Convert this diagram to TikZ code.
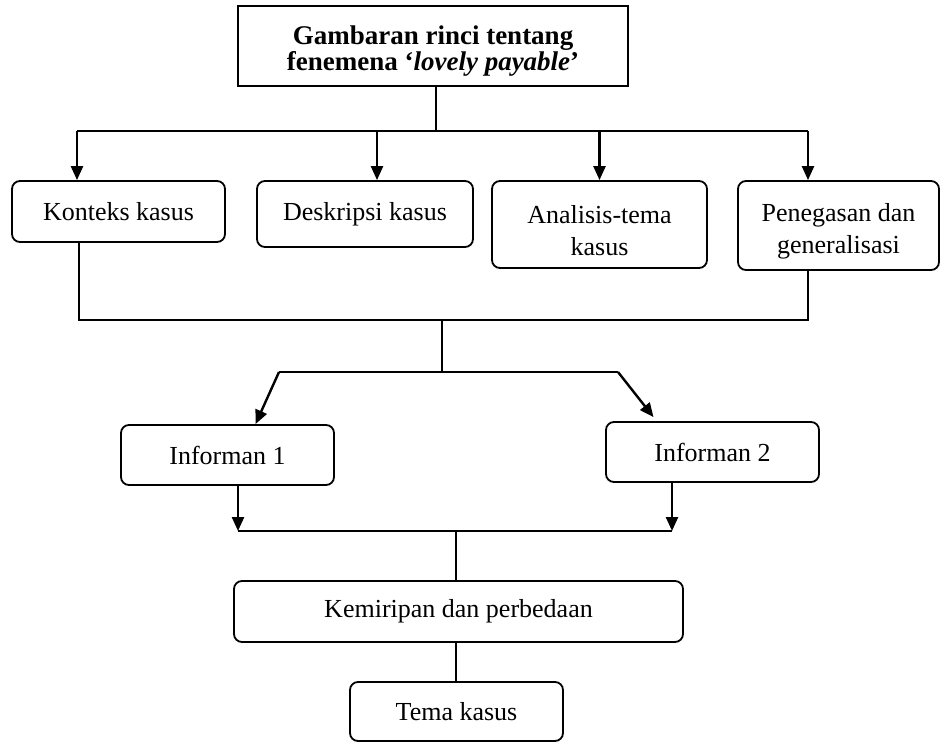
\documentclass[tikz,border=0pt]{standalone}
\usepackage{fontspec}
\setmainfont{Liberation Serif}
\usetikzlibrary{positioning}
\usetikzlibrary{calc}
\usetikzlibrary{arrows.meta}

\newcommand{\topstrut}[1]{\rule{0pt}{#1}}

\begin{document}
\begin{tikzpicture}[
        x=1pt, y=-1pt,
        box/.style={draw, rounded corners=8pt, line width=1.8pt,
                    align=center, inner sep=0pt,
                    font=\fontsize{26}{32}\selectfont},
        headbox/.style={draw, line width=1.8pt, align=center, inner sep=0pt,
                    font=\fontsize{27}{26}\selectfont\bfseries},
        line/.style={line width=2.4pt},
        arrow/.style={-{Triangle[length=14pt,width=12pt]}, line width=2.4pt}
    ]
        \useasboundingbox (0,0) rectangle (942,742);

        \node[headbox, minimum width=390pt, minimum height=80pt] (gambaran) at (433,46)
            {\topstrut{28pt}Gambaran rinci tentang\\fenemena ‘\textit{lovely payable}’};
        \node[box, minimum width=213pt, minimum height=61pt] (konteks) at (118.5,211.5) {Konteks kasus};
        \node[box, minimum width=216pt, minimum height=66pt] (deskripsi) at (365,214) {Deskripsi kasus};
        \node[box, minimum width=215pt, minimum height=87pt] (analisis) at (599.5,224.5) {\topstrut{30pt}Analisis-tema\\kasus};
        \node[box, minimum width=201pt, minimum height=89pt] (penegasan) at (838.5,225.5) {\topstrut{30pt}Penegasan dan\\generalisasi};
        \node[box, minimum width=213pt, minimum height=60pt] (informan1) at (227.5,455) {Informan 1};
        \node[box, minimum width=213pt, minimum height=60pt] (informan2) at (712.5,452) {Informan 2};
        \node[box, minimum width=449pt, minimum height=61pt] (kemiripan) at (458.5,611.5) {Kemiripan dan perbedaan};
        \node[box, minimum width=213pt, minimum height=59pt] (tema) at (456.5,711.5) {Tema kasus};

        % dari judul ke empat kotak
        \coordinate (topjoin) at (436,131);
        \coordinate (topleft) at (77,131);
        \coordinate (topright) at (808,131);
        \draw[line] (gambaran.south -| topjoin) -- (topjoin);
        \draw[line] (topleft) -- (topright);
        \draw[arrow] (topleft) -- (topleft |- konteks.north);
        \draw[arrow] ([xshift=12pt]deskripsi.north |- topleft) -- ([xshift=12pt]deskripsi.north);
        \draw[arrow] (analisis.north |- topleft) -- (analisis.north);
        \draw[arrow] (topright) -- (topright |- penegasan.north);

        % gabungan ke informan
        \coordinate (midleft) at (79,320);
        \coordinate (midright) at (808,320);
        \coordinate (midjoin) at (442,320);
        \coordinate (splitjoin) at (442,372);
        \coordinate (splitleft) at (279,372);
        \coordinate (splitright) at (618,372);
        \draw[line] (konteks.south -| midleft) -- (midleft) -- (midright) -- (penegasan.south -| midright);
        \draw[line] (midjoin) -- (splitjoin);
        \draw[line] (splitleft) -- (splitright);
        \draw[arrow] (splitleft) -- ([xshift=28pt]informan1.north);
        \draw[arrow] (splitright) -- ([xshift=-59pt,yshift=4pt]informan2.north);

        % informan ke kemiripan dan tema
        \coordinate (lowleft) at (238,531);
        \coordinate (lowright) at (672,531);
        \coordinate (lowjoin) at (456,531);
        \draw[arrow] (informan1.south -| lowleft) -- (lowleft);
        \draw[arrow] (informan2.south -| lowright) -- (lowright);
        \draw[line] (lowleft) -- (lowright);
        \draw[line] (lowjoin) -- (kemiripan.north -| lowjoin);
        \draw[line] (kemiripan.south -| lowjoin) -- (tema.north -| lowjoin);
    \end{tikzpicture}
\end{document}
